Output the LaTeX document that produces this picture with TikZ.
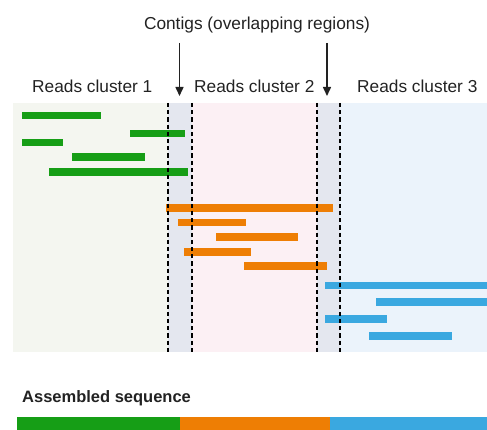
\documentclass[tikz,border=0pt]{standalone}
\usepackage{fontspec}
\setmainfont{Liberation Sans}
\usetikzlibrary{arrows.meta}
\definecolor{gr}{RGB}{22,158,22}
\definecolor{og}{RGB}{238,126,4}
\definecolor{bl}{RGB}{58,168,224}
\definecolor{bgA}{RGB}{244,246,240}
\definecolor{bgC}{RGB}{228,231,239}
\definecolor{bgB}{RGB}{252,240,244}
\definecolor{bgD}{RGB}{235,243,251}
\definecolor{txt}{RGB}{34,34,34}
\tikzset{
  lbl/.style={inner sep=0pt, text=txt, font=\fontsize{17.3}{20}\selectfont},
  ttl/.style={inner sep=0pt, text=txt, font=\fontsize{16.5}{19}\bfseries\selectfont},
  contigline/.style={black, line width=2pt, dash pattern=on 4.2pt off 3pt},
  pointer/.style={line width=1.5pt, txt, -{Triangle[width=8pt,length=9pt]}},
}
\begin{document}
\begin{tikzpicture}[x=1pt,y=-1pt]
\useasboundingbox (0,0) rectangle (487,430);
% backgrounds
\fill[bgA] (13,103) rectangle (168,352);
\fill[bgC] (168,103) rectangle (192,352);
\fill[bgB] (192,103) rectangle (317,352);
\fill[bgC] (317,103) rectangle (340,352);
\fill[bgD] (340,103) rectangle (487,352);
% green reads
\fill[gr] (22,112) rectangle (101,119);
\fill[gr] (130,130) rectangle (185,137);
\fill[gr] (22,139) rectangle (63,146);
\fill[gr] (72,153) rectangle (145,161);
\fill[gr] (49,168) rectangle (188,176);
% orange reads
\fill[og] (166,204) rectangle (333,212);
\fill[og] (178,219) rectangle (246,226);
\fill[og] (216,233) rectangle (298,241);
\fill[og] (184,248) rectangle (251,256);
\fill[og] (244,262) rectangle (327,270);
% blue reads
\fill[bl] (325,282) rectangle (487,289);
\fill[bl] (376,298) rectangle (487,306);
\fill[bl] (325,315) rectangle (387,323);
\fill[bl] (369,332) rectangle (452,340);
% contig boundaries
\coordinate (c1a) at (168,103); \coordinate (c1b) at (168,352);
\coordinate (c2a) at (192,103); \coordinate (c2b) at (192,352);
\coordinate (c3a) at (317,103); \coordinate (c3b) at (317,352);
\coordinate (c4a) at (340,103); \coordinate (c4b) at (340,352);
\draw[contigline] (c1a) -- (c1b);
\draw[contigline] (c2a) -- (c2b);
\draw[contigline] (c3a) -- (c3b);
\draw[contigline] (c4a) -- (c4b);
% labels
\node[lbl, anchor=base] (contigs) at (257,30) {Contigs (overlapping regions)};
\node[lbl, anchor=base west] (rc1) at (32,93) {Reads cluster 1};
\node[lbl, anchor=base west] (rc2) at (194,93) {Reads cluster 2};
\node[lbl, anchor=base west] (rc3) at (357,93) {Reads cluster 3};
% arrows
\coordinate (a1s) at (179.5,43); \coordinate (a1e) at (179.5,96);
\coordinate (a2s) at (327,43); \coordinate (a2e) at (327,96);
\draw[pointer] (a1s) -- (a1e);
\draw[pointer] (a2s) -- (a2e);
% assembled
\node[ttl, anchor=base west] (asm) at (22,402) {Assembled sequence};
\fill[gr] (17,417) rectangle (180,430);
\fill[og] (180,417) rectangle (330,430);
\fill[bl] (330,417) rectangle (487,430);
\end{tikzpicture}
\end{document}
